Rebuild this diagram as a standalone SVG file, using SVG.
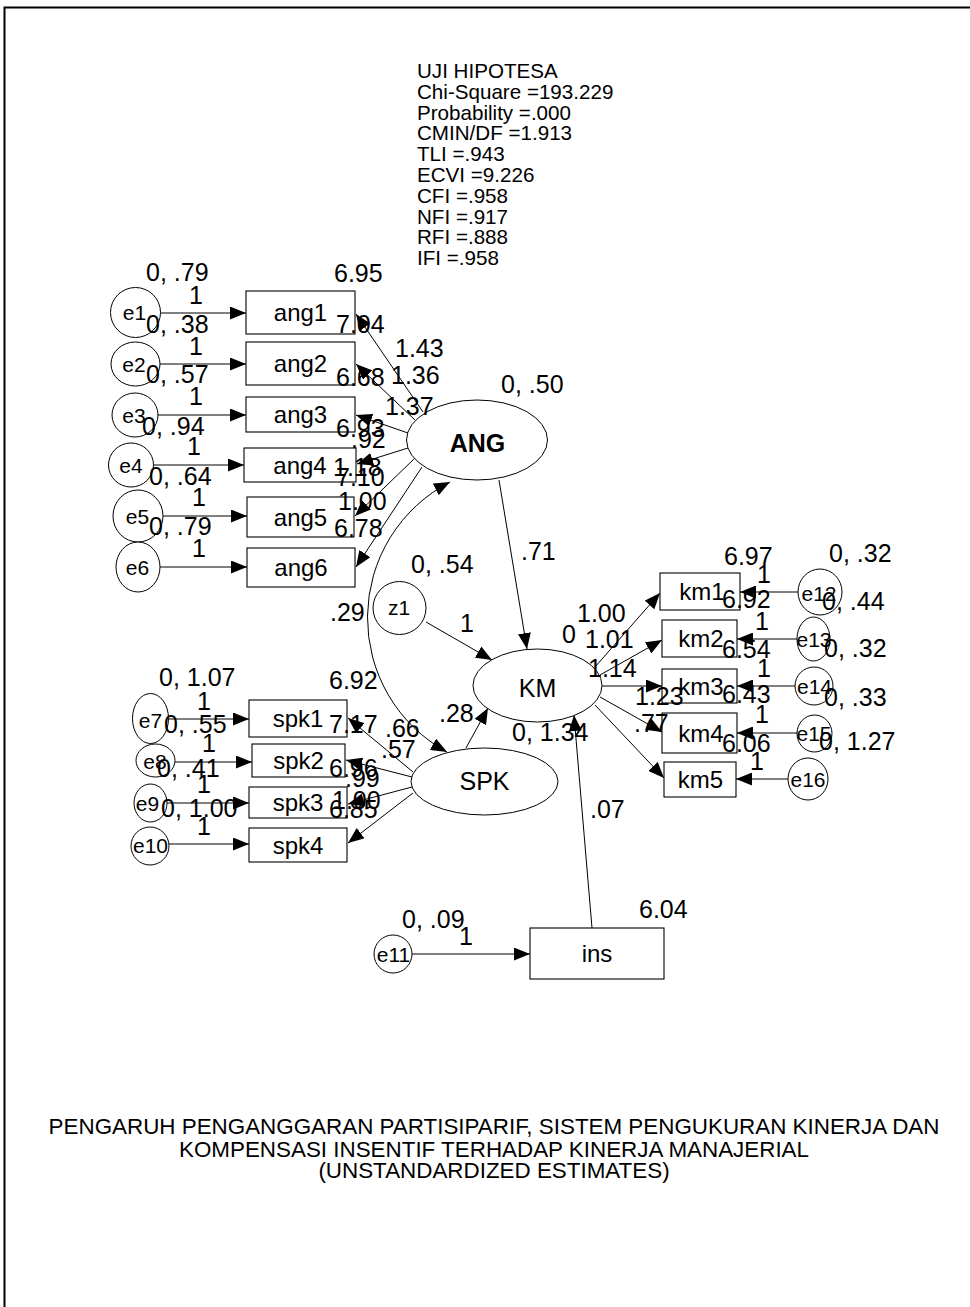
<svg xmlns="http://www.w3.org/2000/svg" width="970" height="1307" viewBox="0 0 970 1307">
<style>
text{font-family:"Liberation Sans",Arial,sans-serif;fill:#000}
.lb{font-size:25px}
.nt{font-size:24px;text-anchor:middle}
.et{font-size:21px;text-anchor:middle}
.lt{font-size:25px;text-anchor:middle}
.hd{font-size:20.6px}
.cp{font-size:22.4px;text-anchor:middle}
.box{fill:#fff;stroke:#000;stroke-width:1.1}
.ov{fill:#fff;stroke:#000;stroke-width:1}
.cn{fill:none;stroke:#000;stroke-width:1;marker-end:url(#ah)}
</style>
<defs>
<marker id="ah" viewBox="0 0 16 13" refX="16" refY="6.5" markerWidth="16" markerHeight="13" markerUnits="userSpaceOnUse" orient="auto-start-reverse"><path d="M0,0 L16,6.5 L0,13 z" fill="#000"/></marker>
</defs>
<rect width="970" height="1307" fill="#fff"/>
<path d="M4.5,1307 V7.5 H970" fill="none" stroke="#000" stroke-width="2"/>

<g id="fit">
<text class="hd" x="417" y="78">UJI HIPOTESA</text>
<text class="hd" x="417" y="98.8">Chi-Square =193.229</text>
<text class="hd" x="417" y="119.6">Probability =.000</text>
<text class="hd" x="417" y="140.4">CMIN/DF =1.913</text>
<text class="hd" x="417" y="161.2">TLI =.943</text>
<text class="hd" x="417" y="182">ECVI =9.226</text>
<text class="hd" x="417" y="202.8">CFI =.958</text>
<text class="hd" x="417" y="223.6">NFI =.917</text>
<text class="hd" x="417" y="244.4">RFI =.888</text>
<text class="hd" x="417" y="265.2">IFI =.958</text>
</g>

<g id="connectors">
<line class="cn" x1="160" y1="313" x2="246" y2="313"/>
<line class="cn" x1="160" y1="364" x2="246" y2="364"/>
<line class="cn" x1="157" y1="415" x2="246" y2="415"/>
<line class="cn" x1="153" y1="465" x2="244" y2="465"/>
<line class="cn" x1="163" y1="516" x2="247" y2="516"/>
<line class="cn" x1="160" y1="567" x2="247" y2="567"/>
<line class="cn" x1="423" y1="412" x2="356" y2="314"/>
<line class="cn" x1="415" y1="420" x2="356" y2="364"/>
<line class="cn" x1="408" y1="433" x2="356" y2="415"/>
<line class="cn" x1="408" y1="448" x2="357" y2="464"/>
<line class="cn" x1="415" y1="458" x2="355" y2="516"/>
<line class="cn" x1="422" y1="467" x2="356" y2="567"/>
<line class="cn" x1="168" y1="719" x2="249" y2="719"/>
<line class="cn" x1="175" y1="762" x2="252" y2="762"/>
<line class="cn" x1="167" y1="803" x2="249" y2="803"/>
<line class="cn" x1="169" y1="844" x2="249" y2="844"/>
<line class="cn" x1="413" y1="772" x2="348" y2="718"/>
<line class="cn" x1="412" y1="777" x2="346" y2="760"/>
<line class="cn" x1="412" y1="787" x2="348" y2="804"/>
<line class="cn" x1="413" y1="793" x2="348" y2="843"/>
<line class="cn" x1="499" y1="480" x2="527" y2="649"/>
<line class="cn" x1="426" y1="622" x2="492" y2="660"/>
<line class="cn" x1="466" y1="748" x2="488" y2="708"/>
<line class="cn" x1="592" y1="928" x2="574" y2="715"/>
<line class="cn" x1="412" y1="954" x2="530" y2="954"/>
<line class="cn" x1="595" y1="667" x2="660" y2="593"/>
<line class="cn" x1="600" y1="675" x2="662" y2="640"/>
<line class="cn" x1="602" y1="686" x2="662" y2="686"/>
<line class="cn" x1="600" y1="697" x2="662" y2="732"/>
<line class="cn" x1="595" y1="705" x2="664" y2="778"/>
<line class="cn" x1="798" y1="592" x2="740" y2="592"/>
<line class="cn" x1="797" y1="639" x2="737" y2="639"/>
<line class="cn" x1="795" y1="686" x2="737" y2="686"/>
<line class="cn" x1="797" y1="733" x2="737" y2="733"/>
<line class="cn" x1="788" y1="779" x2="736" y2="779"/>
<path class="cn" d="M450,482 A153,153 0 0,0 447,752" style="marker-start:url(#ah)"/>
</g>

<g id="e1"><ellipse class="ov" cx="135.5" cy="312.5" rx="25" ry="25"/><text class="et" x="134.5" y="320">e1</text></g>
<g id="e2"><ellipse class="ov" cx="135.5" cy="364" rx="24.5" ry="22"/><text class="et" x="134" y="371.5">e2</text></g>
<g id="e3"><ellipse class="ov" cx="135" cy="415" rx="23" ry="22"/><text class="et" x="134" y="422.5">e3</text></g>
<g id="e4"><ellipse class="ov" cx="131" cy="465" rx="22.5" ry="22"/><text class="et" x="131" y="472.5">e4</text></g>
<g id="e5"><ellipse class="ov" cx="138" cy="516" rx="25" ry="26"/><text class="et" x="137.5" y="523.5">e5</text></g>
<g id="e6"><ellipse class="ov" cx="138" cy="567" rx="22" ry="25"/><text class="et" x="137.5" y="574.5">e6</text></g>
<g id="e7"><ellipse class="ov" cx="150.5" cy="718.5" rx="18" ry="25"/><text class="et" x="150.5" y="727.5">e7</text></g>
<g id="e8"><ellipse class="ov" cx="155.5" cy="760.5" rx="19.5" ry="16.5"/><text class="et" x="155" y="769">e8</text></g>
<g id="e9"><ellipse class="ov" cx="150.5" cy="803" rx="16.5" ry="19"/><text class="et" x="147.5" y="810.5">e9</text></g>
<g id="e10"><ellipse class="ov" cx="150" cy="846" rx="19" ry="19"/><text class="et" x="150.5" y="853">e10</text></g>
<g id="e11"><ellipse class="ov" cx="393" cy="954" rx="19" ry="19"/><text class="et" x="393.5" y="962">e11</text></g>
<g id="e12"><ellipse class="ov" cx="820" cy="592" rx="22" ry="23"/><text class="et" x="819" y="601">e12</text></g>
<g id="e13"><ellipse class="ov" cx="813.5" cy="639" rx="16.5" ry="22"/><text class="et" x="814" y="647">e13</text></g>
<g id="e14"><ellipse class="ov" cx="814" cy="686" rx="19" ry="19"/><text class="et" x="814.5" y="694">e14</text></g>
<g id="e15"><ellipse class="ov" cx="814.5" cy="733.5" rx="17.5" ry="18.5"/><text class="et" x="814" y="741">e15</text></g>
<g id="e16"><ellipse class="ov" cx="808" cy="779" rx="20" ry="21"/><text class="et" x="808" y="787">e16</text></g>
<g id="z1"><ellipse class="ov" cx="399.5" cy="608" rx="26.5" ry="26.5"/><text class="et" x="399" y="615">z1</text></g>

<g id="ang1"><rect class="box" x="246" y="291" width="109" height="43"/><text class="nt" x="300.5" y="321">ang1</text></g>
<g id="ang2"><rect class="box" x="246" y="342" width="109" height="43"/><text class="nt" x="300.5" y="372">ang2</text></g>
<g id="ang3"><rect class="box" x="246" y="397" width="109" height="35"/><text class="nt" x="300.5" y="423">ang3</text></g>
<g id="ang4"><rect class="box" x="244" y="448" width="112" height="34"/><text class="nt" x="300" y="473.5">ang4</text></g>
<g id="ang5"><rect class="box" x="247" y="497" width="107" height="40"/><text class="nt" x="300.5" y="525.5">ang5</text></g>
<g id="ang6"><rect class="box" x="247" y="548" width="108" height="39"/><text class="nt" x="301" y="576">ang6</text></g>
<g id="spk1"><rect class="box" x="249" y="700" width="98" height="37"/><text class="nt" x="298" y="727">spk1</text></g>
<g id="spk2"><rect class="box" x="252" y="744" width="93" height="33"/><text class="nt" x="298.5" y="769">spk2</text></g>
<g id="spk3"><rect class="box" x="249" y="787" width="98" height="31"/><text class="nt" x="298" y="811">spk3</text></g>
<g id="spk4"><rect class="box" x="249" y="828" width="98" height="34"/><text class="nt" x="298" y="853.5">spk4</text></g>
<g id="km1"><rect class="box" x="660" y="573" width="80" height="37"/><text class="nt" x="702" y="600">km1</text></g>
<g id="km2"><rect class="box" x="662" y="620" width="75" height="37"/><text class="nt" x="701" y="647">km2</text></g>
<g id="km3"><rect class="box" x="662" y="669" width="75" height="34"/><text class="nt" x="701" y="694.5">km3</text></g>
<g id="km4"><rect class="box" x="662" y="713" width="75" height="40"/><text class="nt" x="701" y="741.5">km4</text></g>
<g id="km5"><rect class="box" x="664" y="762" width="72" height="35"/><text class="nt" x="700.5" y="788">km5</text></g>
<g id="ins"><rect class="box" x="530" y="928" width="134" height="51"/><text class="nt" x="597" y="962">ins</text></g>

<g id="ANG"><ellipse class="ov" cx="477" cy="440" rx="70.5" ry="40"/><text class="lt" x="477.5" y="452" font-weight="bold">ANG</text></g>
<g id="KM"><ellipse class="ov" cx="537.5" cy="685.5" rx="64.5" ry="36.5"/><text class="lt" x="537.5" y="697">KM</text></g>
<g id="SPK"><ellipse class="ov" cx="484.5" cy="781.5" rx="73.5" ry="33.5"/><text class="lt" x="484.5" y="790">SPK</text></g>

<g id="labels" class="lb">
<text x="146" y="281">0, .79</text>
<text x="189" y="304">1</text>
<text x="334" y="282">6.95</text>
<text x="146" y="333">0, .38</text>
<text x="336" y="333">7.04</text>
<text x="189" y="355">1</text>
<text x="395" y="357">1.43</text>
<text x="146" y="383">0, .57</text>
<text x="336" y="386">6.68</text>
<text x="391" y="384">1.36</text>
<text x="189" y="405">1</text>
<text x="385" y="415">1.37</text>
<text x="142" y="435">0, .94</text>
<text x="336" y="437">6.93</text>
<text x="351" y="448">.92</text>
<text x="187" y="455">1</text>
<text x="149" y="485">0, .64</text>
<text x="333" y="476">1.18</text>
<text x="336" y="486">7.10</text>
<text x="192" y="506">1</text>
<text x="338" y="510">1.00</text>
<text x="149" y="535">0, .79</text>
<text x="334" y="537">6.78</text>
<text x="192" y="557">1</text>
<text x="501" y="393">0, .50</text>
<text x="521" y="560">.71</text>
<text x="411" y="573">0, .54</text>
<text x="460" y="632">1</text>
<text x="330" y="621">.29</text>
<text x="577" y="622">1.00</text>
<text x="562" y="643">0</text>
<text x="585" y="648">1.01</text>
<text x="588" y="677">1.14</text>
<text x="635" y="705">1.23</text>
<text x="634" y="732">.77</text>
<text x="439" y="722">.28</text>
<text x="512" y="741">0, 1.34</text>
<text x="590" y="818">.07</text>
<text x="724" y="565">6.97</text>
<text x="829" y="562">0, .32</text>
<text x="757" y="583">1</text>
<text x="722" y="608">6.92</text>
<text x="822" y="610">0, .44</text>
<text x="755" y="630">1</text>
<text x="722" y="658">6.54</text>
<text x="824" y="657">0, .32</text>
<text x="757" y="677">1</text>
<text x="722" y="703">6.43</text>
<text x="824" y="706">0, .33</text>
<text x="755" y="723">1</text>
<text x="722" y="752">6.06</text>
<text x="819" y="750">0, 1.27</text>
<text x="750" y="770">1</text>
<text x="159" y="686">0, 1.07</text>
<text x="329" y="689">6.92</text>
<text x="197" y="710">1</text>
<text x="164" y="733">0, .55</text>
<text x="329" y="733">7.17</text>
<text x="385" y="737">.66</text>
<text x="202" y="752">1</text>
<text x="381" y="758">.57</text>
<text x="157" y="777">0, .41</text>
<text x="329" y="777">6.96</text>
<text x="345" y="787">.99</text>
<text x="197" y="793">1</text>
<text x="161" y="817">0, 1.00</text>
<text x="332" y="809">1.00</text>
<text x="329" y="818">6.85</text>
<text x="197" y="835">1</text>
<text x="402" y="928">0, .09</text>
<text x="459" y="945">1</text>
<text x="639" y="918">6.04</text>
</g>

<g id="caption">
<text class="cp" x="494" y="1134">PENGARUH PENGANGGARAN PARTISIPARIF, SISTEM PENGUKURAN KINERJA DAN</text>
<text class="cp" x="494" y="1157">KOMPENSASI INSENTIF TERHADAP KINERJA MANAJERIAL</text>
<text class="cp" x="494" y="1178">(UNSTANDARDIZED ESTIMATES)</text>
</g>
</svg>
